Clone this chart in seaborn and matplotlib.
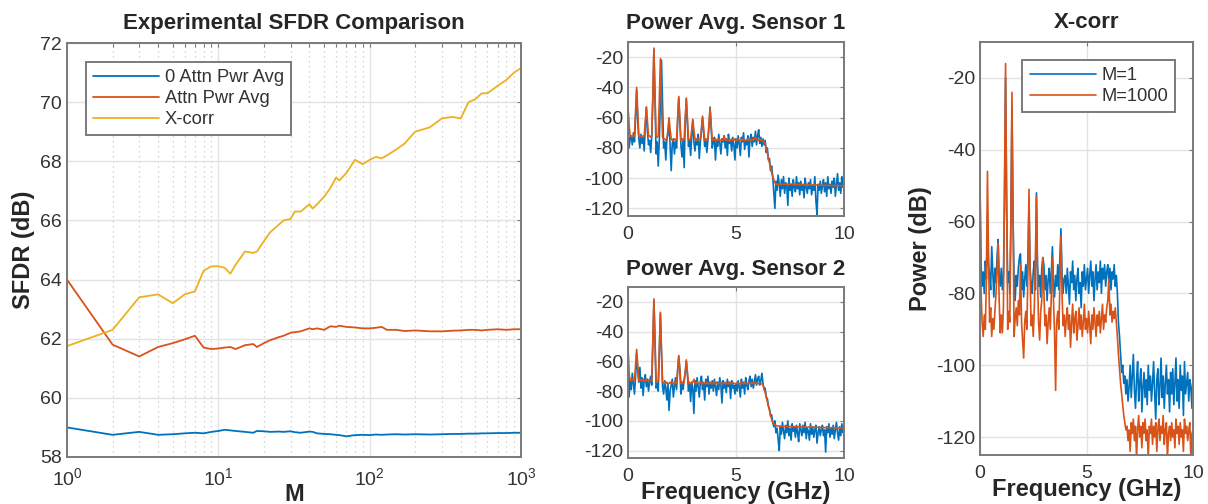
import numpy as np
import pandas as pd
import seaborn as sns
import matplotlib
matplotlib.use("Agg")
import matplotlib.pyplot as plt
from matplotlib.ticker import LogLocator, NullFormatter

# ---------------- data: SFDR vs M ----------------
M = [1, 2, 3, 4, 5, 6, 7, 8, 9, 10, 11, 12, 13, 15, 17, 18, 20, 22, 25, 27, 30, 32, 35, 40, 42, 45,
     50, 55, 60, 63, 70, 80, 90, 100, 110, 120, 130, 150, 170, 200, 250, 300, 350, 400, 450, 500,
     550, 600, 700, 800, 900, 1000]
sfdr_0attn = [59.0, 58.75, 58.85, 58.75, 58.77, 58.8, 58.82, 58.8, 58.85, 58.88, 58.92, 58.9, 58.88,
              58.85, 58.82, 58.88, 58.87, 58.85, 58.86, 58.85, 58.87, 58.84, 58.82, 58.86, 58.85, 58.8,
              58.78, 58.77, 58.75, 58.74, 58.7, 58.74, 58.75, 58.74, 58.76, 58.75, 58.76, 58.77, 58.76,
              58.77, 58.76, 58.77, 58.78, 58.78, 58.79, 58.79, 58.8, 58.8, 58.81, 58.81, 58.82, 58.82]
sfdr_attn = [64.0, 61.8, 61.4, 61.72, 61.85, 61.98, 62.1, 61.7, 61.65, 61.67, 61.7, 61.72, 61.65,
             61.78, 61.82, 61.72, 61.85, 61.95, 62.05, 62.1, 62.2, 62.22, 62.25, 62.35, 62.32, 62.35,
             62.3, 62.42, 62.4, 62.44, 62.4, 62.38, 62.35, 62.35, 62.37, 62.4, 62.3, 62.3, 62.26,
             62.28, 62.25, 62.25, 62.27, 62.28, 62.3, 62.3, 62.28, 62.3, 62.32, 62.3, 62.32, 62.32]
sfdr_xcorr = [61.75, 62.3, 63.4, 63.5, 63.2, 63.5, 63.6, 64.3, 64.45, 64.45, 64.4, 64.2, 64.5,
              64.95, 64.9, 64.95, 65.3, 65.6, 65.85, 66.0, 66.05, 66.3, 66.3, 66.55, 66.4, 66.55,
              66.8, 67.1, 67.45, 67.35, 67.6, 68.05, 67.9, 68.05, 68.15, 68.1, 68.2, 68.4, 68.6,
              69.0, 69.15, 69.45, 69.5, 69.45, 70.0, 70.1, 70.3, 70.3, 70.55, 70.75, 71.0, 71.15]
sfdr_names = ["0 Attn Pwr Avg", "Attn Pwr Avg", "X-corr"]

# ---------------- data: spectra (0 .. 10 GHz, 0.05 GHz bins) ----------------
freq_start, freq_step, n_bins = 0.0, 0.05, 201

s1_single = [
    -52, -80, -74, -72, -78, -70, -76, -60, -42, -62, -74, -80, -71, -77, -73, -82, -66, -53, -69, -78,
    -75, -83, -72, -48, -15, -47, -84, -76, -92, -74, -50, -22, -52, -80, -76, -88, -74, -71, -62, -78,
    -95, -77, -74, -84, -76, -80, -62, -47, -63, -78, -86, -74, -93, -63, -48, -64, -79, -75, -85, -72,
    -62, -76, -82, -74, -78, -71, -87, -76, -69, -60, -70, -79, -74, -83, -75, -66, -53, -66, -80, -76,
    -73, -88, -75, -79, -71, -77, -84, -74, -76, -72, -80, -74, -85, -71, -77, -75, -82, -73, -78, -88,
    -74, -80, -72, -77, -85, -73, -76, -70, -81, -75, -78, -72, -86, -74, -71, -79, -73, -76, -69, -78,
    -72, -68, -77, -73, -79, -74, -78, -75, -83, -80, -88, -87, -95, -92, -99, -110, -120, -102, -108, -98,
    -104, -112, -101, -107, -99, -110, -103, -105, -118, -100, -108, -104, -112, -101, -106, -109, -99, -107, -103, -111,
    -102, -108, -104, -113, -100, -106, -110, -103, -107, -101, -111, -105, -108, -99, -115, -124, -104, -108, -102, -110,
    -105, -101, -109, -103, -112, -99, -107, -104, -110, -102, -106, -100, -112, -104, -97, -108, -103, -110, -99, -106,
    -96]
s1_avg = [
    -53, -65, -72, -72, -73, -72, -72, -56, -40, -56, -72, -73, -72, -73, -72, -72, -63, -53, -63, -72,
    -72, -73, -72, -45, -14, -45, -72, -73, -72, -48, -21, -50, -73, -74, -74, -75, -74, -68, -60, -68,
    -74, -75, -75, -74, -75, -74, -60, -46, -60, -75, -74, -75, -74, -61, -47, -61, -74, -75, -74, -68,
    -61, -68, -74, -75, -75, -74, -75, -74, -67, -59, -67, -75, -74, -75, -74, -64, -54, -64, -75, -74,
    -75, -74, -75, -75, -74, -75, -75, -74, -75, -72, -75, -75, -74, -75, -75, -75, -74, -75, -75, -74,
    -75, -75, -74, -75, -75, -75, -74, -75, -75, -75, -75, -74, -75, -75, -75, -74, -75, -74, -73, -74,
    -75, -75, -74, -75, -75, -75, -76, -77, -80, -83, -87, -90, -93, -96, -99, -101, -103, -104, -104, -104,
    -104, -104.2, -103.9, -104, -104.1, -104, -103.9, -104.1, -104, -104.2, -104, -104.1, -103.9, -104, -104.2, -104.1, -104, -104.2, -104.1, -104.3,
    -104.2, -104.4, -104.3, -104.2, -104.4, -104.5, -104.3, -104.4, -104.5, -104.4, -104.6, -104.5, -104.4, -104.6, -104.5, -104.6, -104.7, -104.5, -104.6, -104.7,
    -104.6, -104.7, -104.8, -104.6, -104.7, -104.8, -104.9, -104.7, -104.8, -104.9, -104.8, -105, -104.9, -104.8, -105, -104.9, -105, -105.1, -104.9, -105,
    -105]

s2_single = [
    -47, -84, -72, -79, -68, -75, -82, -70, -55, -66, -74, -64, -78, -71, -83, -73, -69, -77, -72, -80,
    -74, -70, -76, -47, -19, -47, -78, -75, -80, -53, -28, -54, -77, -82, -73, -78, -86, -75, -93, -80,
    -76, -72, -84, -77, -71, -79, -66, -57, -66, -82, -74, -79, -72, -68, -60, -69, -80, -75, -87, -74,
    -78, -95, -73, -80, -71, -77, -84, -74, -70, -79, -75, -86, -72, -77, -70, -82, -74, -78, -73, -80,
    -72, -77, -83, -74, -79, -71, -76, -88, -73, -78, -75, -81, -72, -77, -74, -85, -73, -78, -76, -82,
    -75, -80, -73, -77, -84, -72, -78, -74, -82, -71, -76, -79, -73, -70, -77, -72, -78, -74, -69, -76,
    -72, -70, -76, -73, -68, -75, -79, -78, -84, -85, -90, -92, -97, -96, -101, -104, -100, -108, -105, -112,
    -120, -104, -109, -101, -107, -112, -103, -108, -100, -110, -105, -113, -102, -107, -104, -111, -103, -108, -114, -102,
    -106, -110, -103, -108, -101, -112, -105, -107, -113, -102, -109, -104, -111, -106, -103, -115, -108, -104, -110, -106,
    -103, -110, -106, -121, -104, -108, -102, -111, -105, -109, -103, -112, -106, -101, -108, -113, -104, -110, -102, -108,
    -106]
s2_avg = [
    -52, -68, -73, -73, -72, -73, -73, -62, -52, -62, -73, -72, -73, -73, -72, -73, -73, -72, -73, -73,
    -72, -73, -73, -46, -18, -46, -73, -74, -73, -52, -27, -52, -74, -75, -74, -75, -74, -75, -75, -74,
    -75, -74, -75, -75, -74, -75, -65, -56, -65, -75, -74, -75, -74, -67, -59, -67, -75, -74, -75, -75,
    -74, -72, -75, -75, -74, -75, -75, -74, -75, -75, -74, -75, -75, -74, -75, -75, -74, -75, -75, -74,
    -75, -75, -74, -75, -75, -75, -74, -75, -75, -75, -74, -75, -75, -75, -74, -75, -75, -74, -75, -75,
    -75, -74, -75, -75, -75, -74, -75, -75, -74, -75, -75, -75, -74, -75, -75, -74, -75, -75, -74, -75,
    -75, -75, -75, -75, -75, -76, -78, -81, -84, -87, -90, -93, -96, -99, -101, -102, -103, -103, -103.5, -103.5,
    -103.6, -103.5, -103.7, -103.6, -103.8, -103.7, -103.6, -103.8, -103.9, -103.7, -103.8, -103.9, -104, -103.8, -103.9, -104, -103.9, -104.1, -104, -103.9,
    -104.1, -104, -104.2, -104.1, -104, -104.2, -104.3, -104.1, -104.2, -104.3, -104.2, -104.4, -104.3, -104.2, -104.4, -104.3, -104.4, -104.5, -104.3, -104.4,
    -104.5, -104.4, -104.6, -104.5, -104.4, -104.6, -104.5, -104.7, -104.6, -104.5, -104.7, -104.6, -104.7, -104.8, -104.6, -104.7, -104.8, -104.7, -104.8, -104.9,
    -104.8]

xc_m1 = [
    -49, -72, -78, -74, -80, -71, -76, -58, -72, -75, -79, -67, -74, -81, -73, -77, -70, -65, -75, -78,
    -73, -79, -75, -55, -20, -56, -77, -74, -80, -60, -28, -58, -76, -82, -75, -78, -73, -70, -69, -79,
    -74, -81, -76, -72, -78, -70, -55, -73, -77, -80, -74, -71, -79, -52, -72, -78, -75, -81, -73, -70,
    -72, -79, -75, -82, -76, -73, -80, -74, -67, -77, -81, -75, -78, -72, -79, -70, -62, -74, -80, -76,
    -75, -80, -73, -78, -83, -74, -77, -71, -79, -75, -82, -76, -73, -80, -77, -84, -74, -78, -72, -79,
    -76, -73, -80, -75, -71, -78, -74, -82, -76, -72, -79, -74, -77, -71, -80, -73, -76, -72, -78, -74,
    -72, -77, -73, -79, -74, -76, -72, -78, -75, -80, -88, -92, -97, -102, -100, -105, -103, -108, -104, -110,
    -106, -100, -109, -103, -97, -107, -112, -104, -99, -110, -105, -101, -113, -106, -102, -109, -104, -111, -100, -107,
    -103, -110, -105, -99, -108, -115, -104, -101, -111, -106, -98, -109, -103, -112, -105, -100, -108, -104, -113, -102,
    -108, -101, -111, -105, -98, -110, -104, -112, -100, -107, -103, -114, -99, -108, -105, -102, -110, -104, -106, -112,
    -103]
xc_m1000 = [
    -52, -80, -88, -92, -86, -90, -76, -46, -70, -88, -84, -92, -87, -90, -85, -80, -74, -66, -82, -91,
    -86, -91, -84, -50, -16, -52, -90, -85, -88, -60, -24, -58, -92, -87, -84, -89, -82, -86, -72, -88,
    -93, -98, -88, -85, -90, -74, -51, -74, -89, -86, -92, -84, -70, -53, -76, -88, -93, -85, -82, -70,
    -80, -89, -86, -94, -88, -84, -90, -80, -70, -82, -91, -107, -88, -85, -90, -78, -64, -80, -89, -86,
    -92, -87, -84, -90, -86, -95, -88, -83, -91, -87, -85, -93, -89, -84, -90, -86, -92, -88, -83, -90,
    -87, -91, -85, -89, -94, -86, -90, -84, -88, -92, -86, -89, -85, -91, -87, -83, -90, -86, -88, -84,
    -82, -76, -86, -83, -88, -85, -87, -84, -88, -92, -97, -101, -105, -108, -111, -114, -116, -118, -117, -121,
    -118, -124, -116, -119, -115, -121, -117, -126, -118, -114, -120, -117, -123, -116, -119, -115, -121, -118, -126, -117,
    -119, -115, -122, -117, -120, -116, -124, -118, -115, -121, -117, -119, -114, -122, -118, -116, -126, -119, -117, -121,
    -116, -120, -118, -123, -115, -119, -117, -122, -116, -120, -118, -124, -115, -119, -117, -121, -118, -116, -126, -119,
    -118]

# ---------------- styling ----------------
BLUE, ORANGE, YELLOW = "#0072BD", "#D95319", "#EDB120"
SPINE = "#7a7a7a"
TXT = "#333333"

sns.set_theme(style="whitegrid")
plt.rcParams["font.family"] = ["Liberation Sans", "DejaVu Sans"]
plt.rcParams["mathtext.fontset"] = "custom"
plt.rcParams["mathtext.rm"] = "Liberation Sans"
plt.rcParams["mathtext.it"] = "Liberation Sans"
plt.rcParams["axes.unicode_minus"] = False

fig = plt.figure(figsize=(12.08, 5.04), dpi=100)
fig.patch.set_facecolor("white")

W, H = 1208, 504
def box(x0, y0, x1, y1):
    return [x0 / W, 1 - y1 / H, (x1 - x0) / W, (y1 - y0) / H]

ax1 = fig.add_axes(box(67, 43, 521, 457))
ax2 = fig.add_axes(box(628, 42, 844, 216))
ax3 = fig.add_axes(box(628, 287, 844, 458))
ax4 = fig.add_axes(box(980, 42, 1193, 455))

def style(ax):
    ax.set_facecolor("white")
    for s in ax.spines.values():
        s.set_color(SPINE)
        s.set_linewidth(1.4)
    ax.grid(True, which="major", color="#e3e3e3", linewidth=1.0)
    ax.tick_params(axis="both", which="both", direction="in", top=True, right=True,
                   colors=SPINE, labelcolor=TXT, labelsize=14, length=3, width=0.8)
    ax.tick_params(axis="x", pad=7)

def style_legend(leg):
    fr = leg.get_frame()
    fr.set_edgecolor(SPINE)
    fr.set_linewidth(1.4)
    fr.set_alpha(1)
    for t in leg.get_texts():
        t.set_color(TXT)

# ---------------- left: SFDR ----------------
df_sfdr = pd.DataFrame({
    "M": M * 3,
    "SFDR": sfdr_0attn + sfdr_attn + sfdr_xcorr,
    "series": [sfdr_names[0]] * len(M) + [sfdr_names[1]] * len(M) + [sfdr_names[2]] * len(M),
})
sns.lineplot(data=df_sfdr, x="M", y="SFDR", hue="series", hue_order=sfdr_names,
             palette=[BLUE, ORANGE, YELLOW], linewidth=1.3, ax=ax1, estimator=None)
ax1.set_xscale("log")
ax1.set_xlim(1, 1000)
ax1.set_ylim(58, 72)
ax1.set_yticks(range(58, 73, 2))
style(ax1)
ax1.xaxis.set_minor_locator(LogLocator(base=10, subs=np.arange(2, 10)))
ax1.xaxis.set_minor_formatter(NullFormatter())
ax1.grid(True, which="minor", axis="x", color="#c8c8c8", linestyle=(0, (1, 3)), linewidth=0.9)
ax1.set_title("Experimental SFDR Comparison", fontsize=16, fontweight="bold", pad=10)
ax1.set_xlabel("M", fontsize=17, fontweight="bold", labelpad=-4)
ax1.set_ylabel("SFDR (dB)", fontsize=17, fontweight="bold", labelpad=4)
leg = ax1.legend(loc="upper left", bbox_to_anchor=(0.042, 0.955), borderaxespad=0,
                 fontsize=13.2, handlelength=3.6, frameon=True, fancybox=False,
                 labelspacing=0.22, borderpad=0.4, handletextpad=0.3)
style_legend(leg)

# ---------------- spectra ----------------
freq = freq_start + freq_step * np.arange(n_bins)

def spectrum(ax, a, b, la, lb, legend=False):
    df = pd.DataFrame({"f": np.concatenate([freq, freq]), "p": a + b,
                       "s": [la] * n_bins + [lb] * n_bins})
    sns.lineplot(data=df, x="f", y="p", hue="s", hue_order=[la, lb], palette=[BLUE, ORANGE],
                 linewidth=1.2, ax=ax, estimator=None, legend=legend)
    ax.set_xlim(0, 10)
    ax.set_ylim(-125, -10)
    ax.set_xticks([0, 5, 10])
    ax.set_yticks([-120, -100, -80, -60, -40, -20])
    style(ax)
    ax.set_xlabel("")
    ax.set_ylabel("")

spectrum(ax2, s1_single, s1_avg, "single", "avg")
ax2.set_title("Power Avg. Sensor 1", fontsize=16, fontweight="bold", pad=9)
spectrum(ax3, s2_single, s2_avg, "single", "avg")
ax3.set_title("Power Avg. Sensor 2", fontsize=16, fontweight="bold", pad=9)
ax3.set_xlabel("Frequency (GHz)", fontsize=17, fontweight="bold", labelpad=-2.5)

spectrum(ax4, xc_m1, xc_m1000, "M=1", "M=1000", legend=True)
ax4.set_title("X-corr", fontsize=16, fontweight="bold", pad=10)
ax4.set_xlabel("Frequency (GHz)", fontsize=17, fontweight="bold", labelpad=-2.5)
ax4.set_ylabel("Power (dB)", fontsize=17, fontweight="bold", labelpad=3)
leg4 = ax4.legend(loc="upper right", bbox_to_anchor=(0.916, 0.957), borderaxespad=0,
                  fontsize=13.2, handlelength=3.6, frameon=True, fancybox=False,
                  labelspacing=0.22, borderpad=0.4, handletextpad=0.3)
style_legend(leg4)

fig.savefig("out.png", dpi=100, facecolor="white")
